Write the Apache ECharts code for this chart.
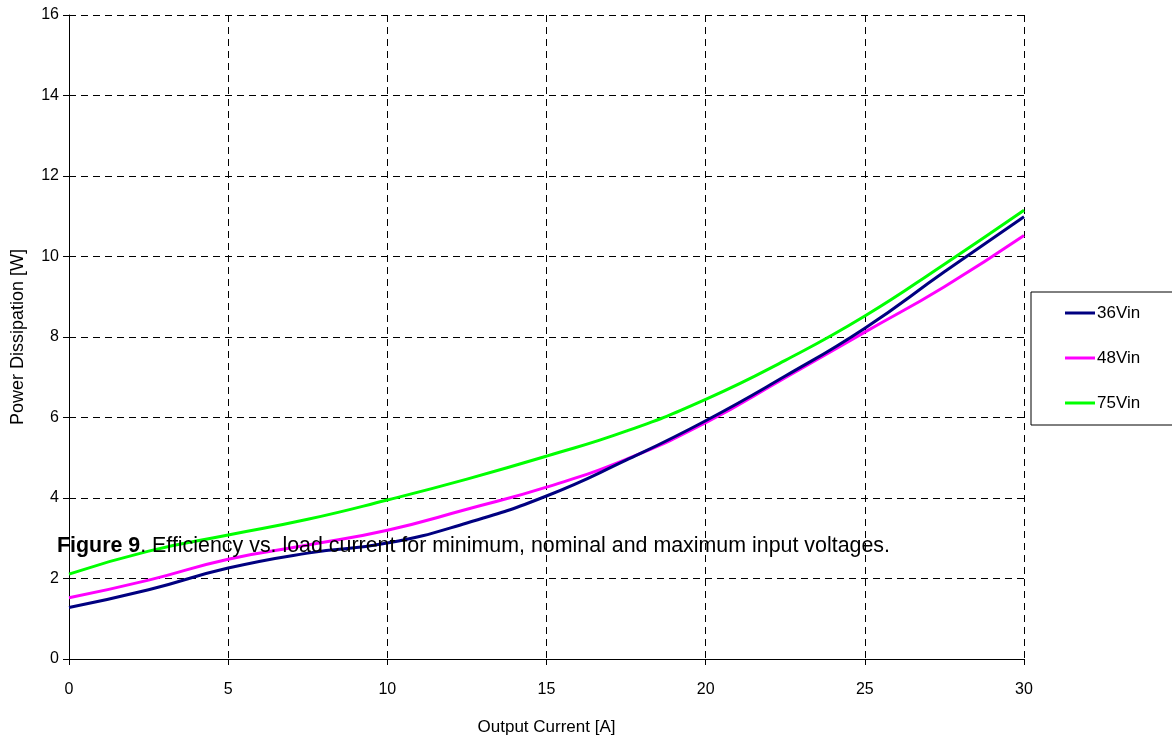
<!DOCTYPE html>
<html>
<head>
<meta charset="utf-8">
<script src="https://cdn.jsdelivr.net/npm/echarts@6/dist/echarts.min.js"></script>
<style>
  html, body { margin: 0; padding: 0; background: #fff; }
  #chart { width: 1172px; height: 738px; }
</style>
</head>
<body>
<div id="chart"></div>
<script>
// output current [A]
const current = [0, 2.5, 5, 7.5, 10, 12.5, 15, 17.5, 20, 22.5, 25, 27.5, 30];
// power dissipation [W]
const vin36 = [1.28, 1.72, 2.26, 2.63, 2.88, 3.38, 4.05, 4.94, 5.92, 7.03, 8.22, 9.62, 10.99];
const vin48 = [1.52, 1.96, 2.48, 2.83, 3.2, 3.72, 4.27, 4.96, 5.87, 6.99, 8.12, 9.25, 10.52];
const vin75 = [2.11, 2.68, 3.08, 3.47, 3.95, 4.47, 5.04, 5.66, 6.45, 7.42, 8.52, 9.81, 11.15];

const seriesNames = ['36Vin', '48Vin', '75Vin'];
const seriesColors = ['#000080', '#ff00ff', '#00ff00'];

const font = 'Liberation Sans, Arial, sans-serif';
const chart = echarts.init(document.getElementById('chart'));

function pairs(ys) {
  return current.map((x, i) => [x, ys[i]]);
}

const gridLine = { show: true, lineStyle: { color: '#000', type: [7, 5], width: 1 } };

chart.setOption({
  animation: false,
  grid: { left: 69, right: 148, top: 15, bottom: 79, outerBoundsMode: 'none' },
  legend: {
    orient: 'vertical',
    left: 1031,
    top: 292,
    icon: 'rect',
    itemWidth: 30,
    itemHeight: 3,
    itemGap: 25,
    padding: [11, 80, 12, 34],
    borderColor: '#000',
    borderWidth: 1,
    textStyle: { fontFamily: font, fontSize: 17, color: '#000', lineHeight: 20, padding: [0, 0, 0, -3] },
    data: seriesNames
  },
  xAxis: {
    type: 'value',
    min: 0,
    max: 30,
    interval: 5,
    name: 'Output Current [A]',
    nameLocation: 'middle',
    nameGap: 60,
    nameTextStyle: { fontFamily: font, fontSize: 17, color: '#000' },
    axisLine: { lineStyle: { color: '#000', width: 1 } },
    axisTick: { show: true, length: 6, lineStyle: { color: '#000' } },
    axisLabel: { fontFamily: font, fontSize: 16, color: '#000', margin: 23 },
    splitLine: gridLine
  },
  yAxis: {
    type: 'value',
    min: 0,
    max: 16,
    interval: 2,
    name: 'Power Dissipation [W]',
    nameLocation: 'middle',
    nameGap: 42,
    nameTextStyle: { fontFamily: font, fontSize: 18, color: '#000' },
    axisLine: { show: true, lineStyle: { color: '#000', width: 1 } },
    axisTick: { show: true, length: 6, lineStyle: { color: '#000' } },
    axisLabel: { fontFamily: font, fontSize: 16, color: '#000', margin: 10 },
    splitLine: gridLine
  },
  series: [vin36, vin48, vin75].map((ys, i) => ({
    name: seriesNames[i],
    type: 'line',
    smooth: 0.5,
    showSymbol: false,
    color: seriesColors[i],
    lineStyle: { width: 3, color: seriesColors[i] },
    data: pairs(ys),
    z: 3 - i
  })),
  graphic: [{
    type: 'text',
    left: 57,
    top: 536,
    z: 100,
    style: {
      text: '{b|Figure 9}. Efficiency vs. load current for minimum, nominal and maximum input voltages.',
      fontFamily: font,
      fontSize: 21.4,
      fill: '#000',
      rich: { b: { fontFamily: font, fontSize: 21.4, fontWeight: 'bold', fill: '#000' } }
    }
  }]
});
</script>
</body>
</html>
